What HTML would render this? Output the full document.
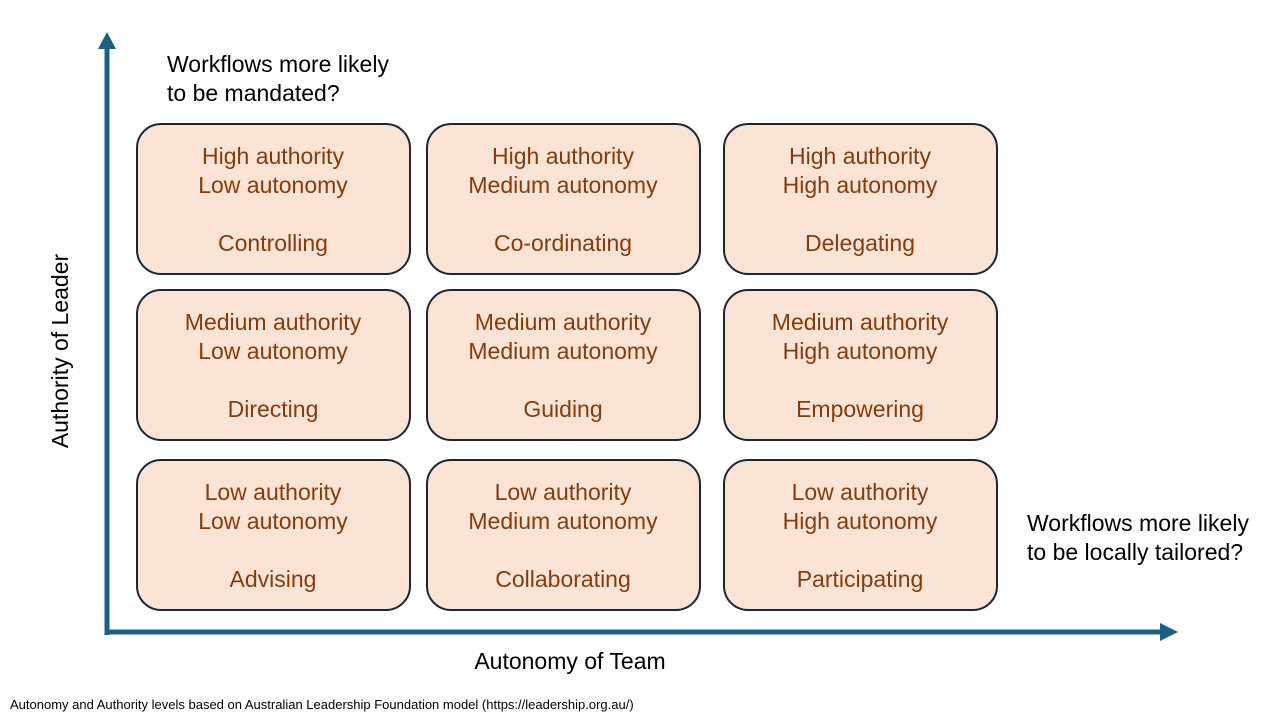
<!DOCTYPE html>
<html><head><meta charset="utf-8"><style>
html,body{margin:0;padding:0;background:#fff;}
svg{display:block;font-family:"Liberation Sans",sans-serif;}
</style></head><body>
<svg width="1280" height="720" viewBox="0 0 1280 720">
<rect width="1280" height="720" fill="#fff"/>
<g fill="#1d5f80" stroke="none">
<rect x="104.5" y="46" width="5" height="589"/>
<polygon points="107,32 98,49 116,49"/>
<rect x="104.5" y="629.5" width="1058" height="5"/>
<polygon points="1178,632 1160,623 1160,641"/>
</g>
<g fill="#fbe3d6" stroke="#1c2633" stroke-width="2">
<rect x="137" y="124" width="273" height="150" rx="24"/>
<rect x="427" y="124" width="273" height="150" rx="24"/>
<rect x="724" y="124" width="273" height="150" rx="24"/>
<rect x="137" y="290" width="273" height="150" rx="24"/>
<rect x="427" y="290" width="273" height="150" rx="24"/>
<rect x="724" y="290" width="273" height="150" rx="24"/>
<rect x="137" y="460" width="273" height="150" rx="24"/>
<rect x="427" y="460" width="273" height="150" rx="24"/>
<rect x="724" y="460" width="273" height="150" rx="24"/>
</g>
<g fill="#843c0c" font-size="23" text-anchor="middle">
<text x="273" y="164">High authority</text><text x="273" y="193">Low autonomy</text><text x="273" y="251">Controlling</text>
<text x="563" y="164">High authority</text><text x="563" y="193">Medium autonomy</text><text x="563" y="251">Co-ordinating</text>
<text x="860" y="164">High authority</text><text x="860" y="193">High autonomy</text><text x="860" y="251">Delegating</text>
<text x="273" y="330">Medium authority</text><text x="273" y="359">Low autonomy</text><text x="273" y="417">Directing</text>
<text x="563" y="330">Medium authority</text><text x="563" y="359">Medium autonomy</text><text x="563" y="417">Guiding</text>
<text x="860" y="330">Medium authority</text><text x="860" y="359">High autonomy</text><text x="860" y="417">Empowering</text>
<text x="273" y="500">Low authority</text><text x="273" y="529">Low autonomy</text><text x="273" y="587">Advising</text>
<text x="563" y="500">Low authority</text><text x="563" y="529">Medium autonomy</text><text x="563" y="587">Collaborating</text>
<text x="860" y="500">Low authority</text><text x="860" y="529">High autonomy</text><text x="860" y="587">Participating</text>
</g>
<g fill="#000" font-size="23">
<text x="167" y="72">Workflows more likely</text>
<text x="167" y="101">to be mandated?</text>
<text x="1027" y="531">Workflows more likely</text>
<text x="1027" y="560">to be locally tailored?</text>
<text x="570" y="669" text-anchor="middle">Autonomy of Team</text>
<text transform="translate(68,351) rotate(-90)" text-anchor="middle">Authority of Leader</text>
</g>
<text x="10" y="709" font-size="13" fill="#000">Autonomy and Authority levels based on Australian Leadership Foundation model (https://leadership.org.au/)</text>
</svg>
</body></html>
